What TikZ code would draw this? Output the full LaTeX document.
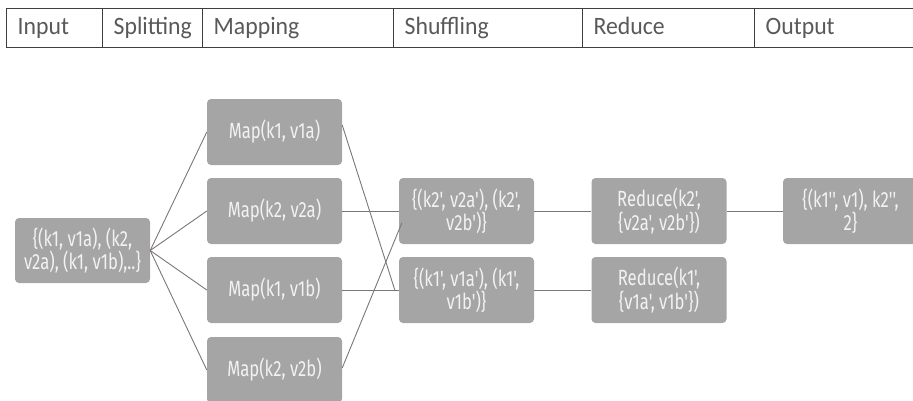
\documentclass[tikz,border=0pt]{standalone}
\usepackage{fontspec}
\usetikzlibrary{calc}
\newfontfamily\headfont[FakeStretch=0.95]{Carlito}
\newfontfamily\cardfont[FakeStretch=0.76]{Fira Sans}
\definecolor{cardfill}{HTML}{A5A5A5}
\definecolor{cardtext}{HTML}{F2F2F2}
\definecolor{wirecol}{HTML}{7C7676}
\definecolor{headtext}{HTML}{595959}
\definecolor{rulecol}{HTML}{3F3F3F}

\begin{document}
\begin{tikzpicture}[x=1pt,y=-1pt,
  headcell/.style={draw=rulecol, line width=1.3pt, rectangle, anchor=north west,
    minimum height=39pt, inner xsep=11pt, inner ysep=0pt, align=left,
    text height=17pt, text depth=5pt,
    text=headtext, font=\headfont\fontsize{25}{26}\selectfont},
  card/.style={rectangle, rounded corners=4pt, fill=cardfill, text=cardtext,
    minimum width=135pt, minimum height=66pt, inner sep=1pt, align=center,
    font=\cardfont\fontsize{22}{21}\selectfont},
  wire/.style={draw=wirecol, line width=0.9pt}]

\useasboundingbox (0,0) rectangle (913,400);

% stage header row
\node[headcell, text width=74pt]  (hInput)   at (6,8)   {Input};
\node[headcell, text width=78pt]  (hSplit)   at (102,8) {Splitting};
\node[headcell, text width=169pt] (hMap)     at (202,8) {Mapping};
\node[headcell, text width=167pt] (hShuffle) at (393,8) {Shuffling};
\node[headcell, text width=150pt] (hReduce)  at (582,8) {Reduce};
\node[headcell, text width=150pt] (hOutput)  at (754,8) {Output};

% input records
\node[card, minimum height=65pt] (in) at (82.5,250.5) {\{(k1, v1a), (k2,\\v2a), (k1, v1b),..\}};

% map tasks
\node[card] (m1) at (274.5,132) {Map(k1, v1a)};
\node[card] (m2) at (274.5,211) {Map(k2, v2a)};
\node[card] (m3) at (274.5,290) {Map(k1, v1b)};
\node[card] (m4) at (274.5,370) {Map(k2, v2b)};

% shuffled groups
\node[card] (s1) at (466.5,211) {\{(k2', v2a'), (k2',\\v2b')\}};
\node[card] (s2) at (466.5,290) {\{(k1', v1a'), (k1',\\v1b')\}};

% reducers
\node[card] (r1) at (659,211) {Reduce(k2',\\\{v2a', v2b'\})};
\node[card] (r2) at (659,290) {Reduce(k1',\\\{v1a', v1b'\})};

% final output
\node[card] (out) at (850.5,211) {\{(k1'', v1), k2'',\\2\}};

% splitting
\draw[wire] (in.east) -- (m1.west);
\draw[wire] (in.east) -- (m2.west);
\draw[wire] (in.east) -- (m3.west);
\draw[wire] (in.east) -- (m4.west);

% shuffling
\draw[wire] (m2.east) -- (s1.west);
\draw[wire] (m3.east) -- (s2.west);
\draw[wire] ($(m1.east)+(0,-7)$) -- ($(s2.west)+(-4,0)$);
\draw[wire] ($(m4.east)+(0,-2)$) -- ($(s1.west)+(3,12)$);

% reducing
\draw[wire] (s1.east) -- (r1.west);
\draw[wire] (s2.east) -- (r2.west);
\draw[wire] (r1.east) -- (out.west);
\end{tikzpicture}
\end{document}
